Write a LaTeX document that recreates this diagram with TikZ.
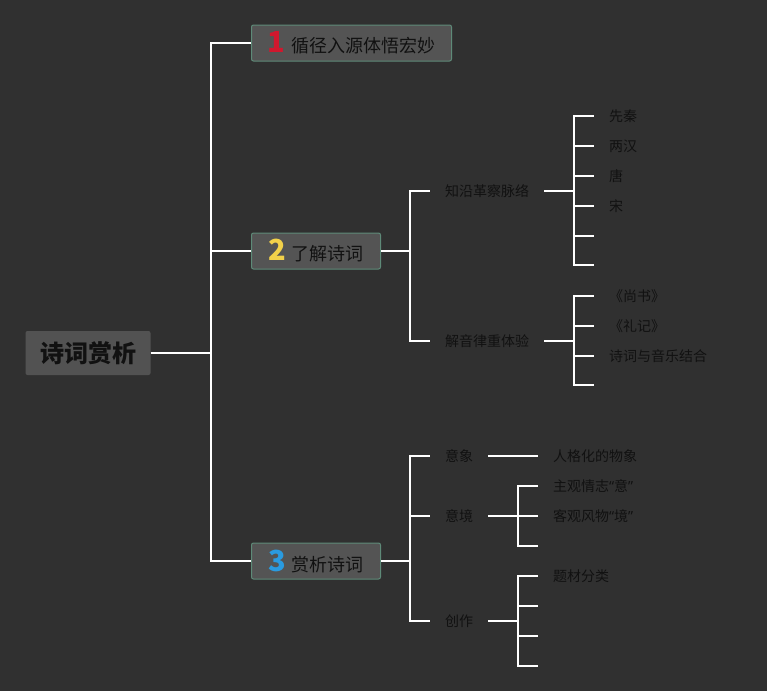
\documentclass[tikz,border=0pt]{standalone}
\usepackage{fontspec}
\setmainfont{Noto Sans CJK SC}
\newfontfamily\quotefont{Noto Sans}
\usepackage{tikz}
\usetikzlibrary{positioning}
\definecolor{cbg}{HTML}{303030}
\definecolor{croot}{HTML}{525252}
\definecolor{cbox}{HTML}{545454}
\definecolor{cboxD}{HTML}{5E8A78}
\definecolor{ctext}{HTML}{111111}
\definecolor{cone}{HTML}{D0182E}
\definecolor{ctwo}{HTML}{F2D14A}
\definecolor{cthree}{HTML}{2A9BE0}
\tikzset{
  fbox/.style={rounded corners=2pt, align=center, inner sep=0pt,
               minimum height=36pt, text=ctext, font=\fontsize{18}{20}\selectfont},
  nroot/.style={fbox, fill=croot, minimum width=125pt, minimum height=44pt,
                font=\fontsize{24}{26}\selectfont\bfseries},
  nmain/.style={fbox, fill=cbox, draw=cboxD, line width=1pt, anchor=west},
  nleaf/.style={anchor=west, inner xsep=15pt, inner ysep=0pt, text=ctext,
                font=\fontsize{14}{16}\selectfont},
  link/.style={draw=white, line width=1.6pt},
}
\newcommand{\bignum}[2]{{\fontsize{29}{29}\selectfont\bfseries\textcolor{#1}{#2}}\hspace{6pt}}
\newcommand{\qt}[1]{{\quotefont“}#1{\quotefont”}}

\begin{document}
\begin{tikzpicture}[x=1pt, y=-1pt]
  \fill[cbg] (0,0) rectangle (767,691);
  % root and main topics
  \node[nroot] (root) at (88,353) {诗词赏析};
  \node[nmain, minimum width=200pt] (b1) at (251,43) {\bignum{cone}{1}循径入源体悟宏妙};
  \node[nmain, minimum width=129pt] (b2) at (251,251) {\bignum{ctwo}{2}了解诗词};
  \node[nmain, minimum width=129pt] (b3) at (251,561) {\bignum{cthree}{3}赏析诗词};
  \coordinate (j0) at (211,353);
  \draw[link] (root.east) -- (j0);
  \foreach \b in {b1,b2,b3}
     \draw[link] (j0) |- (\b.west);
  % second level
  \node[nleaf] (k1) at (430,191) {知沿革察脉络};
  \node[nleaf] (k2) at (430,341) {解音律重体验};
  \node[nleaf] (y1) at (430,456) {意象};
  \node[nleaf] (y2) at (430,516) {意境};
  \node[nleaf] (y3) at (430,621) {创作};
  \coordinate (j2) at (410,251);
  \coordinate (j3) at (410,561);
  \draw[link] (b2.east) -- (j2);
  \draw[link] (b3.east) -- (j3);
  \foreach \k in {k1,k2}
     \draw[link] (j2) |- (\k.west);
  \foreach \k in {y1,y2,y3}
     \draw[link] (j3) |- (\k.west);
  % third level
  \foreach \n/\y/\t in {k1a/116/先秦, k1b/146/两汉, k1c/176/唐, k1d/206/宋,
                        k2a/296/《尚书》, k2b/326/《礼记》, k2c/356/诗词与音乐结合}
     \node[nleaf] (\n) at (594,\y) {\t};
  \foreach \n/\y/\t in {y1a/456/人格化的物象, y2a/486/主观情志\qt{意},
                        y2b/516/客观风物\qt{境}, y3a/576/题材分类}
     \node[nleaf] (\n) at (538,\y) {\t};
  \coordinate (k1e) at (594,236);
  \coordinate (k1f) at (594,265);
  \coordinate (k2d) at (594,385);
  \coordinate (y2c) at (538,546);
  \coordinate (y3b) at (538,606);
  \coordinate (y3c) at (538,636);
  \coordinate (y3d) at (538,666);
  \coordinate (jk1) at (574,191);
  \coordinate (jk2) at (574,341);
  \coordinate (jy2) at (518,516);
  \coordinate (jy3) at (518,621);
  \draw[link] (k1.east) -- (jk1);
  \draw[link] (k2.east) -- (jk2);
  \draw[link] (y2.east) -- (jy2);
  \draw[link] (y3.east) -- (jy3);
  \draw[link] (y1.east) -- (y1a.west);
  \foreach \a/\b in {jk1/k1a,jk1/k1b,jk1/k1c,jk1/k1d,jk1/k1e,jk1/k1f,
                     jk2/k2a,jk2/k2b,jk2/k2c,jk2/k2d,
                     jy2/y2a,jy2/y2b,jy2/y2c,
                     jy3/y3a,jy3/y3b,jy3/y3c,jy3/y3d}
     \draw[link] (\a) |- (\b);
\end{tikzpicture}
\end{document}
